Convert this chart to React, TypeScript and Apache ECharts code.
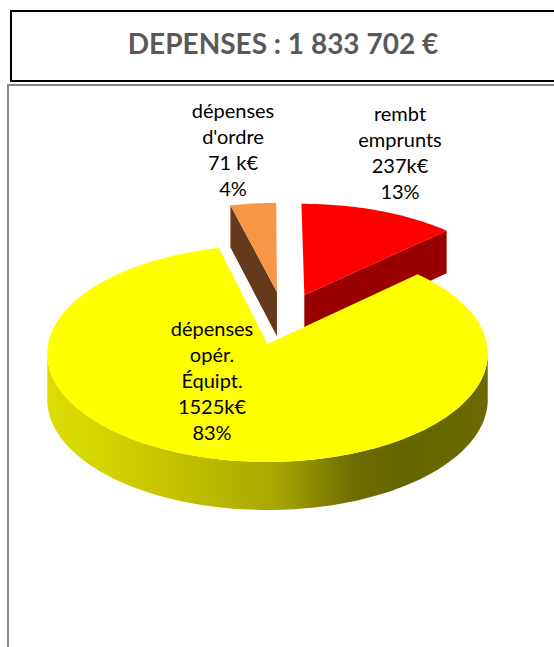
import React, { useEffect, useRef } from "react";
import * as echarts from "echarts";

const titleText = "DEPENSES : 1 833 702 €";
const names = ["rembt\nemprunts", "dépenses\nopér.\nÉquipt.", "dépenses\nd'ordre"];
const amounts = ["237k€", "1525k€", "71 k€"];
const shares = ["13%", "83%", "4%"];
const values = [237, 1525, 71];

const topColors = ["#FF0000", "#FFFF00", "#F79646"];
const wallColors = ["#990000", "#FFFF00", "#653A1C"];
const yellowWallStops = [
  [0, "#DCDC00"],
  [0.12, "#D4D400"],
  [0.35, "#BCBC00"],
  [0.52, "#A6A600"],
  [0.7, "#6C6C00"],
  [0.8, "#666600"],
  [1, "#6A6A00"],
];
const explode = [
  [0.175, -0.475],
  [0, 0],
  [0.045, -0.5055],
];
const radii = [1, 1, 0.98];
const labelAnchors = [
  [400, 113],
  [212, 327.5],
  [233, 109.5],
];

const CX = 267.5;
const CY = 344;
const RX = 219.4;
const RY = 107.5;
const K = 0.0889;
const LINE_H = 26;

const project = (u: number, v: number) => {
  const s = 1 / (1 - K * v);
  return [CX + RX * u * s, CY + RY * v * s];
};
const depth = (v: number) => 45.5 + 2.5 * v;
const total = values.reduce((a, b) => a + b, 0);

const planePoint = (i: number, deg: number) => {
  const a = (deg * Math.PI) / 180;
  return [explode[i][0] + radii[i] * Math.sin(a), explode[i][1] - radii[i] * Math.cos(a)];
};
const lowered = (p: number[]) => {
  const q = project(p[0], p[1]);
  return [q[0], q[1] + depth(p[1])];
};
const raised = (p: number[]) => project(p[0], p[1]);

const renderSlice = (params: any, api: any) => {
  const i = params.dataIndex;
  const value = api.value(0) as number;
  let before = 0;
  for (let j = 0; j < i; j++) before += values[j];
  const start = (before / total) * 360;
  const end = ((before + value) / total) * 360;
  const steps = Math.max(8, Math.ceil((end - start) / 1.5));

  const rim: number[][] = [];
  for (let n = 0; n <= steps; n++) rim.push(planePoint(i, start + ((end - start) * n) / steps));
  const apex = [explode[i][0], explode[i][1]];

  const children: any[] = [];
  const sinS = Math.sin((start * Math.PI) / 180);
  const sinE = Math.sin((end * Math.PI) / 180);
  const radialWall = (edge: number[]) => ({
    type: "polygon",
    shape: { points: [raised(apex), raised(edge), lowered(edge), lowered(apex)] },
    style: { fill: wallColors[i] },
  });
  if (sinS < -1e-6) children.push(radialWall(rim[0]));
  if (sinE > 1e-6) children.push(radialWall(rim[rim.length - 1]));

  const front = rim.filter((p) => p[1] - explode[i][1] >= K);
  if (front.length > 1) {
    const points = [...front.map(raised), ...front.slice().reverse().map(lowered)];
    children.push({
      type: "polygon",
      shape: { points },
      style: {
        fill: new echarts.graphic.LinearGradient(
          0, 0, 1, 0,
          yellowWallStops.map((s) => ({ offset: s[0] as number, color: s[1] as string }))
        ),
      },
    });
  }

  children.push({
    type: "polygon",
    shape: { points: [raised(apex), ...rim.map(raised)] },
    style: { fill: topColors[i] },
  });

  const lines = [...names[i].split("\n"), amounts[i], shares[i]];
  lines.forEach((line, n) => {
    children.push({
      type: "text",
      z2: 100,
      style: {
        x: labelAnchors[i][0],
        y: labelAnchors[i][1] + n * LINE_H,
        text: line,
        fill: "#000000",
        font: '20px Lato, "Open Sans", sans-serif',
        align: "center",
        verticalAlign: "middle",
      },
    });
  });
  return { type: "group", children };
};

export default function App() {
  const ref = useRef<HTMLDivElement>(null);
  useEffect(() => {
    const chart = echarts.init(ref.current!, null, { renderer: "svg" });
    chart.setOption({
      animation: false,
      backgroundColor: "#FFFFFF",
      title: {
        text: titleText,
        left: 278,
        top: 24,
        textAlign: "center",
        textStyle: {
          color: "#595959",
          fontFamily: "Lato, sans-serif",
          fontWeight: "bold",
          fontSize: 28,
        },
      },
      graphic: [
        {
          type: "rect",
          silent: true,
          shape: { x: 8, y: 85, width: 700, height: 700 },
          style: { fill: "none", stroke: "#868686", lineWidth: 2 },
        },
        {
          type: "rect",
          silent: true,
          shape: { x: 11, y: 11, width: 700, height: 70 },
          style: { fill: "none", stroke: "#000000", lineWidth: 2 },
        },
      ],
      series: [
        {
          type: "custom",
          coordinateSystem: "none",
          renderItem: renderSlice,
          data: values.map((v) => [v]),
          encode: { value: 0 },
          silent: true,
        },
      ],
    });
    return () => chart.dispose();
  }, []);
  return (
    <div
      ref={ref}
      style={{ position: "absolute", left: 0, top: 0, width: 554, height: 647 }}
    />
  );
}
